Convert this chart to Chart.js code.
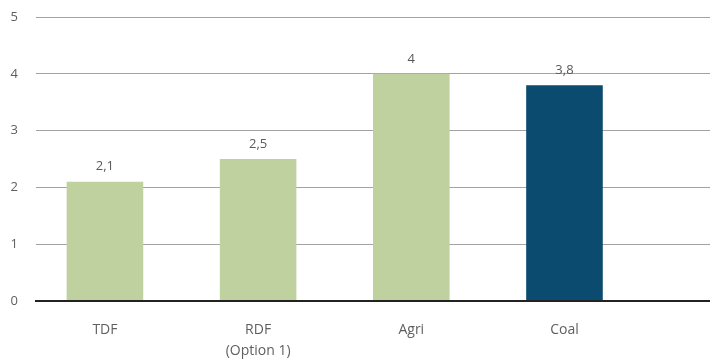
<!DOCTYPE html>
<html>
<head>
<meta charset="utf-8">
<title>Fuel comparison</title>
<script src="https://cdn.jsdelivr.net/npm/chart.js@4.4.1/dist/chart.umd.min.js"></script>
<style>
    html, body { margin: 0; padding: 0; background: #fff; }
    .chart-box { width: 710px; height: 360px; position: relative; }
</style>
</head>
<body>
<div class="chart-box"><canvas id="fuelChart"></canvas></div>
<script>
// Categories and values
const categories = ['TDF', ['RDF', '(Option 1)'], 'Agri', 'Coal'];
const values = [2.1, 2.5, 4, 3.8];
const barColors = ['#bfd19f', '#bfd19f', '#bfd19f', '#0a4b6f'];
const yTicks = [0, 1, 2, 3, 4, 5];

const FONT = '"Open Sans", "Noto Sans", sans-serif';

// Value labels above each bar, decimal comma
const valueLabels = {
    id: 'valueLabels',
    afterDatasetsDraw(chart) {
        const ctx = chart.ctx;
        const meta = chart.getDatasetMeta(0);
        ctx.save();
        ctx.font = '13px ' + FONT;
        ctx.fillStyle = '#5a5a5a';
        ctx.textAlign = 'center';
        ctx.textBaseline = 'middle';
        meta.data.forEach((bar, i) => {
            const text = String(values[i]).replace('.', ',');
            ctx.fillText(text, bar.x, bar.y - 15);
        });
        ctx.restore();
    }
};

const ctx = document.getElementById('fuelChart').getContext('2d');

new Chart(ctx, {
    type: 'bar',
    data: {
        datasets: [{
            data: values.map((v, i) => ({ x: i, y: v })),
            backgroundColor: barColors,
            borderWidth: 0,
            barPercentage: 0.5,
            categoryPercentage: 1
        }]
    },
    options: {
        responsive: true,
        maintainAspectRatio: false,
        animation: false,
        layout: {
            padding: { left: 0, top: 17, right: 0, bottom: 0 }
        },
        plugins: {
            legend: { display: false },
            tooltip: { enabled: false }
        },
        scales: {
            x: {
                type: 'linear',
                offset: false,
                min: -0.45,
                max: 3.95,
                afterBuildTicks: axis => {
                    axis.ticks = categories.map((c, i) => ({ value: i }));
                },
                afterFit: axis => { axis.height = 59; },
                grid: { display: false, drawTicks: false, offset: false },
                border: { display: true, color: '#222222', width: 2 },
                ticks: {
                    autoSkip: false,
                    maxRotation: 0,
                    padding: 19,
                    color: '#5f5f5f',
                    font: { family: FONT, size: 14, lineHeight: 1.5 },
                    callback: value => categories[value]
                }
            },
            y: {
                min: 0,
                max: 5,
                afterBuildTicks: axis => {
                    axis.ticks = yTicks.map(v => ({ value: v }));
                },
                afterFit: axis => {
                    axis.width = 36;
                    axis.paddingTop = 0;
                    axis.paddingBottom = 0;
                },
                grid: {
                    drawTicks: false,
                    color: c => c.tick.value === 0 ? '#222222' : '#a3a3a3',
                    lineWidth: c => c.tick.value === 0 ? 2 : 1
                },
                border: { display: false },
                ticks: {
                    padding: 18,
                    color: '#5f5f5f',
                    font: { family: FONT, size: 13 }
                }
            }
        }
    },
    plugins: [valueLabels]
});
</script>
</body>
</html>
